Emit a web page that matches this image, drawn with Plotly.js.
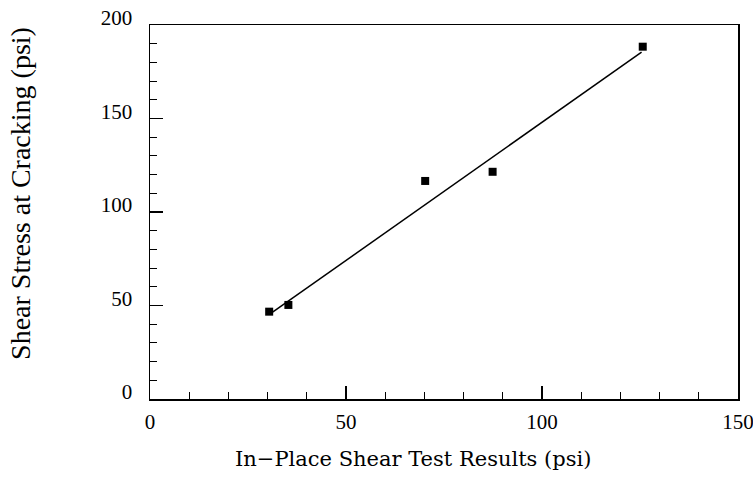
<!DOCTYPE html>
<html>
<head>
<meta charset="utf-8">
<script src="https://cdn.plot.ly/plotly-3.0.1.min.js"></script>
<style>html,body{margin:0;padding:0;background:#fff;}#chart{width:753px;height:483px;}</style>
</head>
<body>
<div id="chart"></div>
<script>
var inPlaceShear = [30.4, 35.3, 70.2, 87.4, 125.7];
var crackingShear = [46.7, 50.3, 116.6, 121.5, 188.4];
var fitX = [31, 125.4];
var fitY = [46, 185.5];
var xTickVals = [0, 50, 100, 150];
var yTickVals = [0, 50, 100, 150, 200];
var xTitle = 'In\u2212Place Shear Test Results (psi)';
var yTitle = 'Shear Stress at Cracking (psi)';

var traces = [
  {x: fitX, y: fitY, mode: 'lines', type: 'scatter',
   line: {color: '#000', width: 1.5}, showlegend: false, hoverinfo: 'skip'},
  {x: inPlaceShear, y: crackingShear, mode: 'markers', type: 'scatter',
   marker: {symbol: 'square', size: 8, color: '#000'}, showlegend: false}
];

var serif = '"Liberation Serif", "DejaVu Serif", serif';
var layout = {
  width: 753, height: 483,
  margin: {l: 150, r: 15, t: 25, b: 84},
  paper_bgcolor: '#fff', plot_bgcolor: '#fff',
  font: {family: serif, color: '#000', size: 20},
  xaxis: {
    range: [0, 150], tickvals: xTickVals, ticks: 'inside', ticklen: 13, tickwidth: 1.2,
    tickcolor: '#000', showline: true, linecolor: '#000', linewidth: 1.5, mirror: true,
    showgrid: false, zeroline: false, tickfont: {size: 21, family: serif},
    ticklabelstandoff: 3, ticklabeloverflow: 'allow',
    minor: {dtick: 10, ticks: 'inside', ticklen: 7, tickcolor: '#000', tickwidth: 1, showgrid: false}
  },
  yaxis: {
    range: [0, 200], tickvals: yTickVals, ticks: 'inside', ticklen: 13, tickwidth: 1.2,
    tickcolor: '#000', showline: true, linecolor: '#000', linewidth: 1.5, mirror: true,
    showgrid: false, zeroline: false, tickfont: {size: 21, family: serif},
    ticklabelstandoff: 12, ticklabelshift: -7, ticklabeloverflow: 'allow',
    minor: {dtick: 10, ticks: 'inside', ticklen: 7, tickcolor: '#000', tickwidth: 1, showgrid: false}
  },
  annotations: [
    {text: xTitle, xref: 'paper', yref: 'paper', x: 0.447, y: -0.160,
     xanchor: 'center', yanchor: 'middle', showarrow: false,
     font: {size: 21, family: '"DejaVu Serif", serif', color: '#000'}},
    {text: yTitle, xref: 'paper', yref: 'paper', x: -0.2194, y: 0.551,
     xanchor: 'center', yanchor: 'middle', showarrow: false, textangle: -90,
     font: {size: 28, family: serif, color: '#000'}}
  ]
};

Plotly.newPlot('chart', traces, layout, {displayModeBar: false, staticPlot: true});
</script>
</body>
</html>
